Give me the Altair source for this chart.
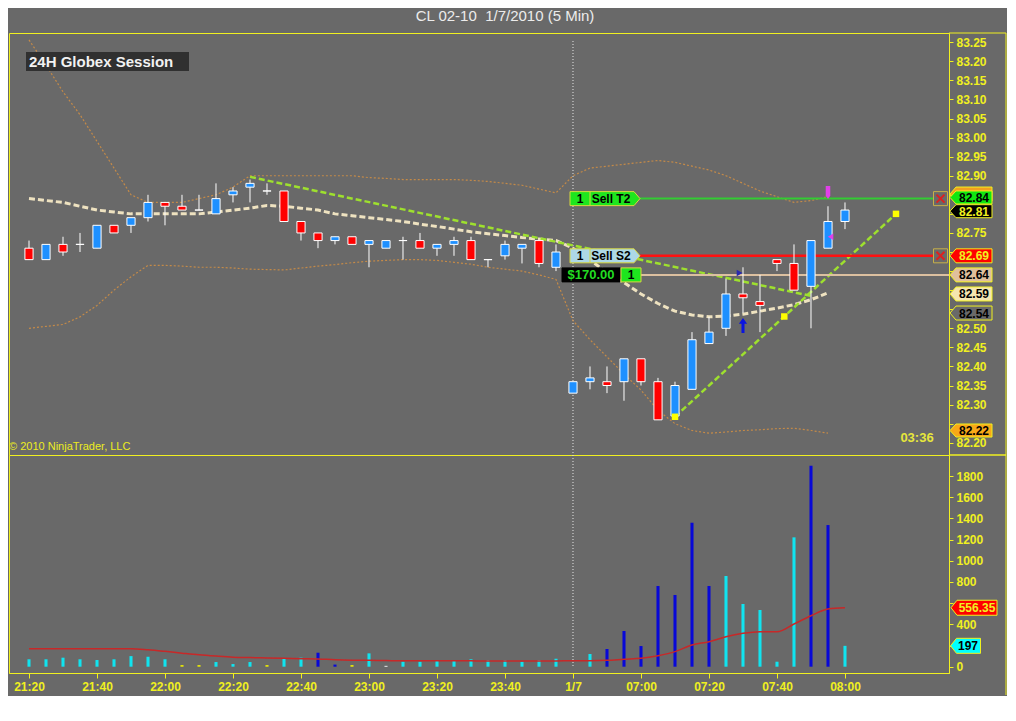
import altair as alt
import pandas as pd

# ---------------- data ----------------
bar_index = list(range(49))
tick_bars = [0, 4, 8, 12, 16, 20, 24, 28, 32, 36, 40, 44, 48]
tick_labels = ["21:20", "21:40", "22:00", "22:20", "22:40", "23:00", "23:20",
               "23:40", "1/7", "07:00", "07:20", "07:40", "08:00"]
price_ticks = [82.20, 82.25, 82.30, 82.35, 82.40, 82.45, 82.50, 82.55, 82.60,
               82.65, 82.70, 82.75, 82.80, 82.85, 82.90, 82.95, 83.00, 83.05,
               83.10, 83.15, 83.20, 83.25]
covered_ticks = ["82.25", "82.55", "82.60", "82.65", "82.70", "82.80", "82.85"]
vol_ticks = [0, 200, 400, 600, 800, 1000, 1200, 1400, 1600, 1800]
covered_vol_ticks = ["200", "600"]

opens = [82.71, 82.68, 82.72, 82.72, 82.71, 82.77, 82.77, 82.79, 82.83, 82.82,
         82.81, 82.80, 82.85, 82.87, 82.86, 82.86, 82.78, 82.75, 82.73, 82.74,
         82.72, 82.71, 82.73, 82.73, 82.71, 82.72, 82.73, 82.68, 82.69, 82.71,
         82.73, 82.66, 82.33, 82.36, 82.36, 82.36, 82.42, 82.36, 82.27, 82.34,
         82.46, 82.50, 82.59, 82.57, 82.68, 82.67, 82.61, 82.71, 82.78]
highs = [82.73, 82.72, 82.74, 82.75, 82.77, 82.77, 82.79, 82.85, 82.83, 82.85,
         82.85, 82.88, 82.87, 82.89, 82.88, 82.86, 82.78, 82.75, 82.74, 82.74,
         82.73, 82.73, 82.74, 82.75, 82.72, 82.74, 82.74, 82.68, 82.73, 82.72,
         82.73, 82.72, 82.36, 82.40, 82.40, 82.42, 82.42, 82.37, 82.36, 82.49,
         82.53, 82.63, 82.66, 82.64, 82.68, 82.72, 82.73, 82.82, 82.83]
lows = [82.68, 82.68, 82.69, 82.70, 82.71, 82.75, 82.75, 82.78, 82.77, 82.81,
        82.81, 82.80, 82.83, 82.83, 82.85, 82.78, 82.73, 82.71, 82.72, 82.72,
        82.66, 82.71, 82.68, 82.71, 82.69, 82.69, 82.68, 82.66, 82.68, 82.67,
        82.66, 82.65, 82.33, 82.34, 82.33, 82.31, 82.35, 82.26, 82.26, 82.34,
        82.46, 82.48, 82.54, 82.49, 82.65, 82.60, 82.50, 82.71, 82.76]
closes = [82.68, 82.72, 82.70, 82.72, 82.77, 82.75, 82.79, 82.83, 82.82, 82.81,
          82.81, 82.84, 82.86, 82.88, 82.86, 82.78, 82.75, 82.73, 82.74, 82.72,
          82.73, 82.73, 82.73, 82.71, 82.72, 82.73, 82.68, 82.68, 82.72, 82.72,
          82.67, 82.70, 82.36, 82.37, 82.35, 82.42, 82.36, 82.26, 82.35, 82.47,
          82.49, 82.59, 82.58, 82.56, 82.67, 82.60, 82.73, 82.78, 82.81]

mid_line = [82.84, 82.835, 82.83, 82.82, 82.81, 82.805, 82.80, 82.80, 82.80, 82.80,
            82.80, 82.805, 82.81, 82.815, 82.822, 82.82, 82.815, 82.81, 82.80, 82.795,
            82.79, 82.785, 82.78, 82.773, 82.767, 82.76, 82.753, 82.748, 82.743, 82.738,
            82.734, 82.73, 82.71, 82.68, 82.645, 82.62, 82.59, 82.565, 82.545, 82.535,
            82.53, 82.532, 82.537, 82.545, 82.553, 82.562, 82.575, 82.593]
upper_band = [83.256, 83.19, 83.12, 83.06, 82.99, 82.92, 82.85, 82.83, 82.83, 82.83,
              82.84, 82.85, 82.87, 82.90, 82.90, 82.90, 82.90, 82.90, 82.90, 82.90,
              82.895, 82.893, 82.89, 82.89, 82.89, 82.89, 82.888, 82.885, 82.88, 82.875,
              82.865, 82.855, 82.90, 82.92, 82.925, 82.93, 82.935, 82.94, 82.935, 82.925,
              82.915, 82.90, 82.88, 82.86, 82.845, 82.83, 82.835, 82.845]
lower_band = [82.50, 82.505, 82.51, 82.53, 82.56, 82.60, 82.635, 82.665, 82.665, 82.663,
              82.66, 82.66, 82.658, 82.655, 82.654, 82.653, 82.658, 82.663, 82.667, 82.672,
              82.676, 82.678, 82.68, 82.68, 82.678, 82.673, 82.668, 82.66, 82.655, 82.65,
              82.64, 82.628, 82.52, 82.47, 82.425, 82.38, 82.338, 82.285, 82.25, 82.232,
              82.225, 82.228, 82.232, 82.234, 82.237, 82.238, 82.232, 82.225]

volume = [70, 70, 85, 70, 63, 70, 100, 94, 70, 15,
          15, 44, 25, 44, 15, 75, 85, 132, 20, 15,
          126, 8, 47, 47, 63, 63, 70, 63, 63, 47,
          63, 75, 0, 120, 167, 337, 195, 762, 677, 1359,
          762, 856, 592, 535, 47, 1221, 1897, 1337, 197]
volume_color = ["cyan", "cyan", "cyan", "cyan", "cyan", "cyan", "cyan", "cyan", "cyan", "yellow",
                "yellow", "cyan", "cyan", "cyan", "yellow", "cyan", "cyan", "blue", "blue", "yellow",
                "cyan", "white", "cyan", "cyan", "cyan", "cyan", "cyan", "cyan", "cyan", "cyan",
                "cyan", "cyan", "cyan", "cyan", "blue", "blue", "blue", "blue", "blue", "blue",
                "blue", "cyan", "cyan", "cyan", "cyan", "cyan", "blue", "blue", "cyan"]
volume_ma = [170, 170, 170, 170, 170, 170, 170, 160, 145, 128,
             112, 100, 90, 86, 82, 79, 76, 73, 66, 62,
             60, 58, 56, 56, 55, 55, 55, 54, 54, 54,
             54, 54, 57, 57, 60, 70, 79, 104, 142, 205,
             236, 283, 315, 330, 330, 403, 481, 545, 556]

day_break_bar = [32]
trend1_bar = [13, 46]
trend1_price = [82.897, 82.585]
trend2_bar = [38, 51]
trend2_price = [82.268, 82.80]
swing_bar = [38, 44.43, 51]
swing_price = [82.268, 82.531, 82.80]
marker_bar = [47, 47.15, 42, 41.8]
marker_price = [82.856, 82.74, 82.507, 82.645]
marker_kind = ["exit_top", "exit_side", "entry_arrow", "entry_tri"]
target_price, stop_price, entry_price = 82.84, 82.69, 82.64
# right-hand value tags: (position, text)
value_tags = [(82.852, "82.85"), (82.843, "82.84"), (82.807, "82.81"), (82.69, "82.69"),
              (82.64, "82.64"), (82.59, "82.59"), (82.54, "82.54"), (82.232, "82.22")]
vol_last, vol_ma_last = 197, 556.35
pnl_text = "$170.00"
TITLE = "CL 02-10\u00a0 1/7/2010 (5 Min)"

# ---------------- style ----------------
FONT = "Liberation Sans"
BG = "#696969"
YEL = "#f0f020"
W, H1, H2 = 940, 422, 218
RX = 997  # right frame line (plot px)
tag_style = {"82.85": ("#f0a020", YEL), "82.84": ("#11e611", "black"),
             "82.81": ("#000000", YEL), "82.69": ("#ff0000", YEL),
             "82.64": ("#e0c09c", "black"), "82.59": ("#f5e6b0", "black"),
             "82.54": (BG, "black"), "82.22": ("#f8a818", "black")}

XS = alt.Scale(domain=[-1.1765, 54.118], nice=False, zero=False)
PS = alt.Scale(domain=[82.1678, 83.2742], nice=False, zero=False)
VS = alt.Scale(domain=[-59.5, 1998.3], nice=False, zero=False)


def hide_expr(hidden):
    return ("indexof([" + ",".join("'" + t + "'" for t in hidden) +
            "], datum.label) >= 0 ? '' : datum.label")


def yaxis(values, fmt, hidden):
    return alt.Axis(orient="right", values=values, format=fmt, title=None, grid=False,
                    labelExpr=hide_expr(hidden),
                    labelColor=YEL, labelFont=FONT, labelFontSize=12, labelFontWeight="bold",
                    labelPadding=3, labelOverlap=False, labelFlush=False,
                    domainColor=YEL, domainWidth=1, tickColor=YEL, tickSize=4, tickWidth=1)


PAX = yaxis(price_ticks, ".2f", covered_ticks)
VAX = yaxis(vol_ticks, "d", covered_vol_ticks)
label_js = "[" + ",".join("'" + t + "'" for t in tick_labels) + "][round(datum.value/4)]"
XAX = alt.Axis(orient="bottom", values=tick_bars, labelExpr=label_js, title=None, grid=False,
               labelColor=YEL, labelFont=FONT, labelFontSize=12, labelFontWeight="bold",
               labelPadding=3, labelOverlap=False, labelFlush=False,
               domainColor=YEL, tickColor=YEL, tickSize=5)


def px(f):
    return alt.X(f, type="quantitative", scale=XS, axis=None)


def vx(f):
    return alt.X(f, type="quantitative", scale=XS, axis=XAX)


def py(f):
    return alt.Y(f, type="quantitative", scale=PS, axis=PAX)


def vy(f):
    return alt.Y(f, type="quantitative", scale=VS, axis=VAX)


def pyd(v):
    return alt.YDatum(v, type="quantitative", scale=PS, axis=PAX)


def vyd(v):
    return alt.YDatum(v, type="quantitative", scale=VS, axis=VAX)


ONE = pd.DataFrame({"k": [0]})


def box_path(w, h, point):
    hw = w / 2.0
    a = h / 2.0 / hw
    p = 6.0 / hw
    if point == "left":
        return f"M-1,0L{-1 + p:.3f},{-a:.3f}L1,{-a:.3f}L1,{a:.3f}L{-1 + p:.3f},{a:.3f}Z"
    if point == "right":
        return f"M1,0L{1 - p:.3f},{-a:.3f}L-1,{-a:.3f}L-1,{a:.3f}L{1 - p:.3f},{a:.3f}Z"
    return f"M-1,{-a:.3f}L1,{-a:.3f}L1,{a:.3f}L-1,{a:.3f}Z"


def tag(yenc, cx, w, h, fill, stroke, text=None, tcolor="black", tx=None, point=None, fs=12):
    lay = [alt.Chart(ONE).mark_point(shape=box_path(w, h, point), size=w * w, filled=True,
                                     fill=fill, stroke=stroke, strokeWidth=1, opacity=1,
                                     fillOpacity=1).encode(x=alt.value(cx), y=yenc)]
    if text:
        lay.append(alt.Chart(ONE).mark_text(text=text, color=tcolor, font=FONT, fontSize=fs,
                                            fontWeight="bold", align="center", baseline="middle",
                                            dy=0.5)
                   .encode(x=alt.value(cx if tx is None else tx), y=yenc))
    return lay


# ---------------- tables ----------------
cdf = pd.DataFrame({"i": bar_index, "o": opens, "h": highs, "l": lows, "c": closes})
cdf["dir"] = ["up" if c >= o else "down" for o, c in zip(opens, closes)]
cdf["lo"] = cdf["i"] - 0.24
cdf["hi"] = cdf["i"] + 0.24

bdf = pd.DataFrame({"i": bar_index[:len(mid_line)], "mid": mid_line,
                    "up": upper_band, "dn": lower_band})
t1 = pd.DataFrame({"i": trend1_bar, "p": trend1_price})
t2 = pd.DataFrame({"i": trend2_bar, "p": trend2_price})
sw = pd.DataFrame({"i": swing_bar, "p": swing_price})
mk = pd.DataFrame({"i": marker_bar, "p": marker_price, "kind": marker_kind})
dbk = pd.DataFrame({"i": day_break_bar})

vdf = pd.DataFrame({"i": bar_index, "v": volume, "col": volume_color, "ma": volume_ma})
vdf["lo"] = vdf["i"] - 0.09
vdf["hi"] = vdf["i"] + 0.09
vdf["zero"] = 0

# ---------------- price panel ----------------
P = []
P.append(alt.Chart(dbk).mark_rule(color="#e6e6e6", strokeDash=[1, 2], strokeWidth=1)
         .encode(x=px("i"), y=alt.value(8), y2=alt.value(H1)))
for col in ["up", "dn"]:
    P.append(alt.Chart(bdf).mark_line(color="#c48a48", strokeWidth=1.2, strokeDash=[2, 2])
             .encode(x=px("i"), y=py(col)))
P.append(alt.Chart(bdf).mark_line(color="#eee2c0", strokeWidth=3, strokeDash=[6, 3])
         .encode(x=px("i"), y=py("mid")))
for t in (t1, t2):
    P.append(alt.Chart(t).mark_line(color="#9ee02e", strokeWidth=2.5, strokeDash=[6, 3])
             .encode(x=px("i"), y=py("p")))
# order levels
P.append(alt.Chart(ONE).mark_rule(color="#dcc0a0", strokeWidth=2)
         .encode(x=alt.value(632), x2=alt.value(W), y=pyd(entry_price)))
P.append(alt.Chart(ONE).mark_rule(color="#ff1010", strokeWidth=2.5)
         .encode(x=alt.value(631), x2=alt.value(924), y=pyd(stop_price)))
P.append(alt.Chart(ONE).mark_rule(color="#33cc33", strokeWidth=2)
         .encode(x=alt.value(631), x2=alt.value(924), y=pyd(target_price)))
# candles
P.append(alt.Chart(cdf).mark_rule(color="white", strokeWidth=1)
         .encode(x=px("i"), y=py("l"), y2=alt.Y2("h")))
P.append(alt.Chart(cdf).mark_rect(stroke="white", strokeWidth=1)
         .encode(x=px("lo"), x2=alt.X2("hi"), y=py("o"), y2=alt.Y2("c"),
                 color=alt.Color("dir:N", scale=alt.Scale(domain=["up", "down"],
                                                          range=["#1e90ff", "#ff0000"]),
                                 legend=None)))
# swing squares
P.append(alt.Chart(sw).mark_point(shape="square", size=42, filled=True, color="#ffff00", opacity=1)
         .encode(x=px("i"), y=py("p")))
# execution markers
P.append(alt.Chart(mk).transform_filter("datum.kind == 'exit_top'")
         .mark_point(shape="M-0.35,-1L0.35,-1L0.35,0.5L0,1L-0.35,0.5Z", size=169, filled=True,
                     color="#e040e8", opacity=1).encode(x=px("i"), y=py("p")))
P.append(alt.Chart(mk).transform_filter("datum.kind == 'exit_side'")
         .mark_point(shape="triangle-left", size=40, filled=True, color="#e040e8", opacity=1)
         .encode(x=px("i"), y=py("p")))
P.append(alt.Chart(mk).transform_filter("datum.kind == 'entry_arrow'")
         .mark_point(shape="M0,-1L0.55,-0.25L0.2,-0.25L0.2,1L-0.2,1L-0.2,-0.25L-0.55,-0.25Z",
                     size=225, filled=True, color="#0a14e0", opacity=1)
         .encode(x=px("i"), y=py("p")))
P.append(alt.Chart(mk).transform_filter("datum.kind == 'entry_tri'")
         .mark_point(shape="triangle-right", size=45, filled=True, color="#2828b0", opacity=1)
         .encode(x=px("i"), y=py("p")))

# order tags on the chart
for price, fill, txt in [(target_price, "#1ee61e", "Sell T2"), (stop_price, "#add8e6", "Sell S2")]:
    P += tag(pyd(price), 596, 70, 14, fill, "#d8d840", point="right")
    P.append(alt.Chart(ONE).mark_point(shape="M0,-1L0,1", size=196, filled=False,
                                       stroke="#d8d840", strokeWidth=1, opacity=1)
             .encode(x=alt.value(581), y=pyd(price)))
    P.append(alt.Chart(ONE).mark_text(text="1", font=FONT, fontSize=12, fontWeight="bold",
                                      color="black", align="center", baseline="middle", dy=0.5)
             .encode(x=alt.value(571), y=pyd(price)))
    P.append(alt.Chart(ONE).mark_text(text=txt, font=FONT, fontSize=12, fontWeight="bold",
                                      color="black", align="center", baseline="middle", dy=0.5)
             .encode(x=alt.value(602), y=pyd(price)))
P += tag(pyd(entry_price), 582, 58, 14, "#000000", "#000000", pnl_text, "#22dd22", point=None, fs=13)
P += tag(pyd(entry_price), 622, 20, 14, "#1ee61e", "#d8d840", "1", "black", point=None)

# close boxes
for price in (target_price, stop_price):
    P.append(alt.Chart(ONE).mark_point(shape="square", size=196, filled=False, stroke="#c8b048",
                                       strokeWidth=1, opacity=1)
             .encode(x=alt.value(931.5), y=pyd(price)))
    P.append(alt.Chart(ONE).mark_point(shape="M-1,-1L1,1M1,-1L-1,1", size=64, filled=False,
                                       stroke="#dd2020", strokeWidth=2, opacity=1)
             .encode(x=alt.value(931.5), y=pyd(price)))

# right-side value tags
for pos, txt in value_tags:
    fill, tcol = tag_style[txt]
    h = 13 if txt in ("82.22", "82.84", "82.81") else 14
    if txt == "82.85":
        # mostly hidden behind the 82.84 tag
        P += tag(pyd(pos), 962, 42, h, fill, YEL, None, tcol, point="left")
    else:
        P += tag(pyd(pos), 962, 42, h, fill, YEL, txt, tcol, tx=965, point="left")

# texts
P.append(alt.Chart(ONE).mark_rect(color="#303030")
         .encode(x=alt.value(17), x2=alt.value(180), y=alt.value(19), y2=alt.value(38)))
P.append(alt.Chart(ONE).mark_text(text="24H Globex Session", font=FONT, fontSize=15,
                                  fontWeight="bold", color="#f2f2f2", align="left",
                                  baseline="middle", dy=0.5)
         .encode(x=alt.value(20), y=alt.value(28.5)))
P.append(alt.Chart(ONE).mark_text(text="\u00a9 2010 NinjaTrader, LLC", font=FONT, fontSize=11,
                                  color="#ecec20", align="left", baseline="middle")
         .encode(x=alt.value(0), y=alt.value(413.7)))
P.append(alt.Chart(ONE).mark_text(text="03:36", font=FONT, fontSize=13, fontWeight="bold",
                                  color="#e6e63c", align="center", baseline="middle")
         .encode(x=alt.value(908), y=alt.value(405.3)))
P.append(alt.Chart(ONE).mark_text(text=TITLE, font=FONT, fontSize=15, color="#ececec",
                                  align="center", baseline="middle")
         .encode(x=alt.value(496), y=alt.value(-17)))
# frame
P.append(alt.Chart(ONE).mark_rule(color=YEL, strokeWidth=1)
         .encode(x=alt.value(W), x2=alt.value(RX), y=alt.value(0)))
P.append(alt.Chart(ONE).mark_rule(color=YEL, strokeWidth=1)
         .encode(x=alt.value(W), x2=alt.value(RX), y=alt.value(H1)))
P.append(alt.Chart(ONE).mark_rule(color=YEL, strokeWidth=1)
         .encode(x=alt.value(RX), y=alt.value(0), y2=alt.value(H1)))

price_panel = alt.layer(*P).properties(width=W, height=H1)

# ---------------- volume panel ----------------
V = []
V.append(alt.Chart(dbk).mark_rule(color="#e6e6e6", strokeDash=[1, 2], strokeWidth=1)
         .encode(x=vx("i"), y=alt.value(0), y2=alt.value(212)))
V.append(alt.Chart(vdf).mark_rect()
         .encode(x=vx("lo"), x2=alt.X2("hi"), y=vy("v"), y2=alt.Y2("zero"),
                 color=alt.Color("col:N", scale=alt.Scale(domain=["cyan", "blue", "yellow", "white"],
                                                          range=["#10e4f0", "#0808d8", "#f0f000", "#ffffff"]),
                                 legend=None)))
V.append(alt.Chart(vdf).mark_line(color="#c82828", strokeWidth=1.5, interpolate="monotone")
         .encode(x=vx("i"), y=vy("ma")))
V += tag(vyd(vol_ma_last), 965, 46, 15, "#ff0000", YEL, f"{vol_ma_last:.2f}", YEL, tx=968, point="left")
V += tag(vyd(vol_last), 956.5, 30, 15, "#00ffff", YEL, f"{vol_last}", "black", tx=959, point="left")
V.append(alt.Chart(ONE).mark_rule(color=YEL, strokeWidth=1)
         .encode(x=alt.value(W), x2=alt.value(RX), y=alt.value(0)))
V.append(alt.Chart(ONE).mark_rule(color=YEL, strokeWidth=1)
         .encode(x=alt.value(RX), y=alt.value(0), y2=alt.value(H2 + 22)))

volume_panel = alt.layer(*V).properties(width=W, height=H2)

chart = (alt.vconcat(price_panel, volume_panel, spacing=0, bounds="flush")
         .resolve_scale(color="independent")
         .properties(padding=0, background=BG)
         .configure_view(stroke=YEL, strokeWidth=1))

chart.save("out.html", embed_options={"renderer": "svg", "actions": False})
